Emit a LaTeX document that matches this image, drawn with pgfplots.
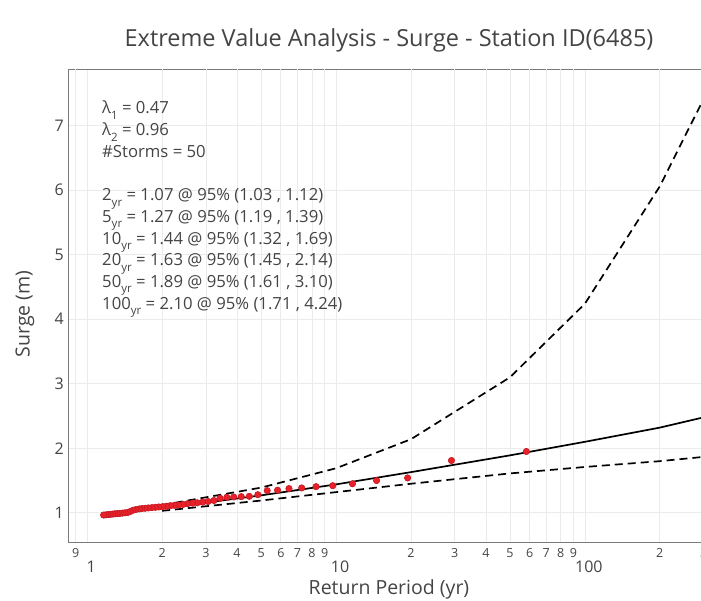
\documentclass[border=0pt]{standalone}
\usepackage{pgfplots}
\pgfplotsset{compat=1.18}
\usepackage{fontspec}
\setmainfont{Open Sans}
\definecolor{txt}{HTML}{444444}
\definecolor{gridc}{HTML}{EBEBEB}
\definecolor{axc}{HTML}{7A7A7A}
\definecolor{ptc}{HTML}{E8202A}
\newcommand{\sub}[1]{\raisebox{-0.32em}{\fontsize{11.5}{11.5}\selectfont #1}}
\pgfplotstableread{
T y
58.2 1.95
29.1 1.81
19.4 1.54
14.55 1.50
11.64 1.45
9.70 1.42
8.31 1.405
7.28 1.385
6.47 1.375
5.82 1.35
5.29 1.343
4.85 1.28
4.48 1.255
4.16 1.25
3.88 1.245
3.64 1.24
3.42 1.225
3.23 1.19
3.06 1.175
2.91 1.165
2.77 1.155
2.65 1.15
2.53 1.14
2.43 1.13
2.33 1.12
2.24 1.115
2.16 1.11
2.08 1.10
2.01 1.095
1.94 1.09
1.88 1.085
1.82 1.08
1.76 1.075
1.71 1.07
1.66 1.065
1.62 1.06
1.57 1.05
1.53 1.04
1.49 1.02
1.455 1.005
1.42 1.00
1.386 0.995
1.353 0.99
1.323 0.987
1.293 0.985
1.265 0.98
1.238 0.975
1.213 0.972
1.188 0.968
1.164 0.965
}\tabpts
\pgfplotstableread{
T y
2 1.07
5 1.27
10 1.44
20 1.63
50 1.89
100 2.10
200 2.32
500 2.68
}\tabfit
\pgfplotstableread{
T y
2 1.12
5 1.39
10 1.69
20 2.14
50 3.10
100 4.24
200 6.06
500 9.12
}\tabup
\pgfplotstableread{
T y
2 1.03
5 1.19
10 1.32
20 1.45
50 1.61
100 1.71
200 1.80
500 1.95
}\tablo
\begin{document}
\begin{tikzpicture}[x=1pt,y=1pt]
\path[use as bounding box] (0,0) rectangle (701,600);
\begin{axis}[
  at={(68.4pt,58pt)}, anchor=south west,
  scale only axis, width=635.2pt, height=473pt,
  xmode=log, xmin=0.8404, xmax=300, ymin=0.547, ymax=7.879,
  axis line style={axc, line width=0.8pt},
  major tick length=0pt, minor tick length=0pt,
  xmajorgrids, ymajorgrids,
  major grid style={gridc, line width=0.7pt},
  ytick={1,2,3,4,5,6,7},
  yticklabel style={font=\fontsize{16}{16}\selectfont, color=txt, xshift=-1pt},
  xtick={1,10,100}, xticklabels={1,10,100},
  xminorticks=false,
  xticklabel style={font=\fontsize{16}{16}\selectfont, color=txt, anchor=center, yshift=-24.5pt, xshift=4pt},
  extra x ticks={0.9,2,3,4,5,6,7,8,9,20,30,40,50,60,70,80,90,200,300},
  extra x tick labels={9,2,3,4,5,6,7,8,9,2,3,4,5,6,7,8,9,2,3},
  extra x tick style={grid=major, xticklabel style={font=\fontsize{12.5}{12.5}\selectfont, yshift=13.5pt, xshift=-4pt}},
  /pgf/number format/assume math mode=true,
  clip=true,
]
\addplot[black, line width=1.7pt, dash pattern=on 8pt off 5pt] table[x=T,y=y] {\tabup};
\addplot[black, line width=1.7pt, dash pattern=on 8pt off 5pt] table[x=T,y=y] {\tablo};
\addplot[black, line width=1.7pt] table[x=T,y=y] {\tabfit};
\addplot[only marks, mark=*, mark size=3.2pt, color=ptc, mark options={fill=ptc, draw=ptc!85!black, line width=0.6pt}] table[x=T,y=y] {\tabpts};
\end{axis}
\node[color=txt, font=\fontsize{23.5}{23.5}\selectfont] at (389,560) {Extreme Value Analysis - Surge - Station ID(6485)};
\node[color=txt, font=\fontsize{19.5}{19.5}\selectfont, rotate=90] at (25,286) {Surge (m)};
\node[color=txt, font=\fontsize{19.5}{19.5}\selectfont] at (389,11) {Return Period (yr)};
\begin{scope}[every node/.style={anchor=base west, color=txt, font=\fontsize{16.7}{16.7}\selectfont, inner sep=0pt}]
\node at (102,486) {λ\sub{1} = 0.47};
\node at (102,464.3) {λ\sub{2} = 0.96};
\node at (102,442.6) {\#Storms = 50};
\node at (102,399.2) {2\sub{yr} = 1.07 @ 95\% (1.03 , 1.12)};
\node at (102,377.5) {5\sub{yr} = 1.27 @ 95\% (1.19 , 1.39)};
\node at (102,355.8) {10\sub{yr} = 1.44 @ 95\% (1.32 , 1.69)};
\node at (102,334.1) {20\sub{yr} = 1.63 @ 95\% (1.45 , 2.14)};
\node at (102,312.4) {50\sub{yr} = 1.89 @ 95\% (1.61 , 3.10)};
\node at (102,290.7) {100\sub{yr} = 2.10 @ 95\% (1.71 , 4.24)};
\end{scope}
\end{tikzpicture}
\end{document}
